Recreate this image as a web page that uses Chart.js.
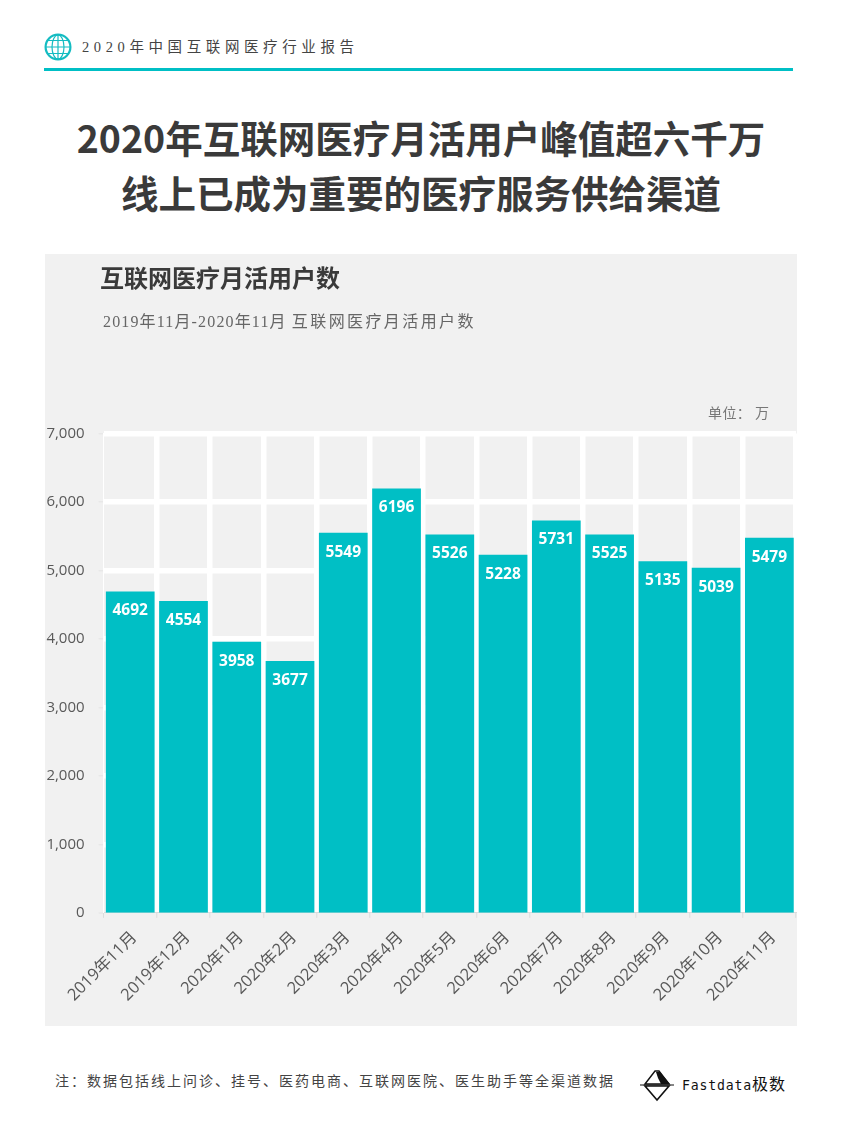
<!DOCTYPE html>
<html lang="zh">
<head>
<meta charset="utf-8">
<title>互联网医疗月活用户数</title>
<script src="https://cdn.jsdelivr.net/npm/chart.js@4"></script>
<style>
    html, body { margin: 0; padding: 0; background: #fff; }
    body { position: relative; width: 852px; height: 1136px; overflow: hidden; font-family: "Noto Sans CJK SC", sans-serif; }
    .txt { position: absolute; white-space: nowrap; }
    .serif { font-family: "Liberation Serif", "Noto Sans CJK SC", serif; }
    #rule { position: absolute; left: 44px; top: 68px; width: 749px; height: 3px; background: #00bfc5; }
    #panel { position: absolute; left: 45px; top: 254px; width: 752px; height: 772px; background: #f1f1f1; }
    #chart { position: absolute; left: 45px; top: 254px; }
    h1 { position: absolute; left: 0; width: 842px; margin: 0; text-align: center; font-size: 37.5px; line-height: 50px; font-weight: 700; color: #3a3a3a; white-space: nowrap; }
</style>
</head>
<body>
<svg style="position:absolute;left:44px;top:33px" width="28" height="28" viewBox="0 0 28 28" fill="none" stroke="#14bcc2">
    <circle cx="14" cy="14" r="12.4" stroke-width="2.2"/>
    <ellipse cx="14" cy="14" rx="6" ry="12" stroke-width="1.2"/>
    <path d="M14 2V26M2 14H26M4 7.5H24M4 20.5H24" stroke-width="1.2"/>
</svg>
<div class="txt serif" style="left:82px;top:38px;font-size:14.5px;line-height:18px;letter-spacing:4.6px;color:#444">2020年中国互联网医疗行业报告</div>
<div id="rule"></div>
<h1 style="top:112px">2020年互联网医疗月活用户峰值超六千万</h1>
<h1 style="top:167px">线上已成为重要的医疗服务供给渠道</h1>
<div id="panel"></div>
<canvas id="chart" width="752" height="772"></canvas>
<div class="txt" style="left:100px;top:261px;font-size:24px;line-height:32px;font-weight:700;color:#3a3a3a">互联网医疗月活用户数</div>
<div class="txt serif" style="left:103px;top:312px;font-size:16px;line-height:20px;letter-spacing:1.15px;color:#666">2019年11月-2020年11月 <span style="letter-spacing:2.4px">互联网医疗月活用户数</span></div>
<div class="txt serif" style="left:708px;top:405px;font-size:14px;line-height:18px;letter-spacing:0.4px;color:#777">单位： 万</div>
<div class="txt serif" style="left:55px;top:1073px;font-size:14px;line-height:18px;letter-spacing:2px;color:#444">注：数据包括线上问诊、挂号、医药电商、互联网医院、医生助手等全渠道数据</div>
<svg style="position:absolute;left:639px;top:1068px" width="36" height="34" viewBox="0 0 36 34">
    <path d="M1 17H35" stroke="#111" stroke-width="1.2"/>
    <path d="M18 32L6 18H30Z" fill="#fff" stroke="#111" stroke-width="1.6"/>
    <path d="M6 16L16 3L20 3L30 16Z" fill="#fff" stroke="#111" stroke-width="1.4"/>
    <path d="M17 4L21 4L31 16H22L19 10Z" fill="#111"/>
</svg>
<div class="txt" style="left:682px;top:1075px;font-family:'DejaVu Sans Mono','Noto Sans CJK SC',monospace;font-size:13.2px;line-height:17px;letter-spacing:0.8px;color:#111">Fastdata<span style="font-family:'Noto Sans CJK SC';font-weight:400;font-size:16px;letter-spacing:1px">极数</span></div>

<script>
// 图表数据
const months = ['2019年11月', '2019年12月', '2020年1月', '2020年2月', '2020年3月', '2020年4月', '2020年5月', '2020年6月', '2020年7月', '2020年8月', '2020年9月', '2020年10月', '2020年11月'];
const activeUsers = [4692, 4554, 3958, 3677, 5549, 6196, 5526, 5228, 5731, 5525, 5135, 5039, 5479];
const yTicks = [0, 1000, 2000, 3000, 4000, 5000, 6000, 7000];

const axisFontFamily = '"Open Sans", "Noto Sans CJK SC", sans-serif';

// 柱子上的数值标签
const barLabels = {
    id: 'barLabels',
    afterDatasetsDraw(chart) {
        const ctx = chart.ctx;
        ctx.save();
        ctx.fillStyle = '#fff';
        ctx.font = 'bold 15.5px "Open Sans", sans-serif';
        ctx.textAlign = 'center';
        ctx.textBaseline = 'middle';
        chart.getDatasetMeta(0).data.forEach(function(bar, i) {
            ctx.fillText(String(activeUsers[i]), bar.x, bar.y + 19.5);
        });
        ctx.restore();
    }
};

new Chart(document.getElementById('chart').getContext('2d'), {
    type: 'bar',
    data: {
        labels: months,
        datasets: [{
            data: activeUsers,
            backgroundColor: '#00bfc5',
            barPercentage: 0.915,
            categoryPercentage: 1
        }]
    },
    plugins: [barLabels],
    options: {
        responsive: false,
        animation: false,
        layout: { padding: { top: 179.5, right: 1, left: 0, bottom: 0 } },
        plugins: { legend: { display: false }, tooltip: { enabled: false } },
        scales: {
            x: {
                afterFit(axis) { axis.height = 113.2; },
                border: { color: '#dcdcdc', width: 1 },
                grid: {
                    color: '#fff',
                    lineWidth: function(c) { return c.index === 0 ? 1 : 5.5; },
                    tickColor: '#dcdcdc',
                    tickWidth: 1,
                    tickLength: 5
                },
                ticks: {
                    color: '#595959',
                    font: { family: axisFontFamily, size: 16.5 },
                    minRotation: 45,
                    maxRotation: 45,
                    autoSkip: false,
                    labelOffset: 4,
                    padding: 10
                }
            },
            y: {
                min: 0,
                max: 7000,
                afterFit(axis) { axis.width = 58.6; },
                afterBuildTicks(axis) { axis.ticks = yTicks.map(function(v) { return { value: v }; }); },
                border: { color: '#fff', width: 1 },
                grid: {
                    color: '#fff',
                    // 0 处不画白线，柱子才能贴到底边
                    lineWidth: function(c) { return c.tick && c.tick.value === 0 ? 0 : 5.5; },
                    tickColor: '#e4e4e4',
                    tickWidth: 1,
                    tickLength: 5
                },
                ticks: {
                    color: '#595959',
                    font: { family: axisFontFamily, size: 15 },
                    padding: 14,
                    callback: function(v) { return v.toLocaleString('en-US'); }
                }
            }
        }
    }
});
</script>
</body>
</html>
